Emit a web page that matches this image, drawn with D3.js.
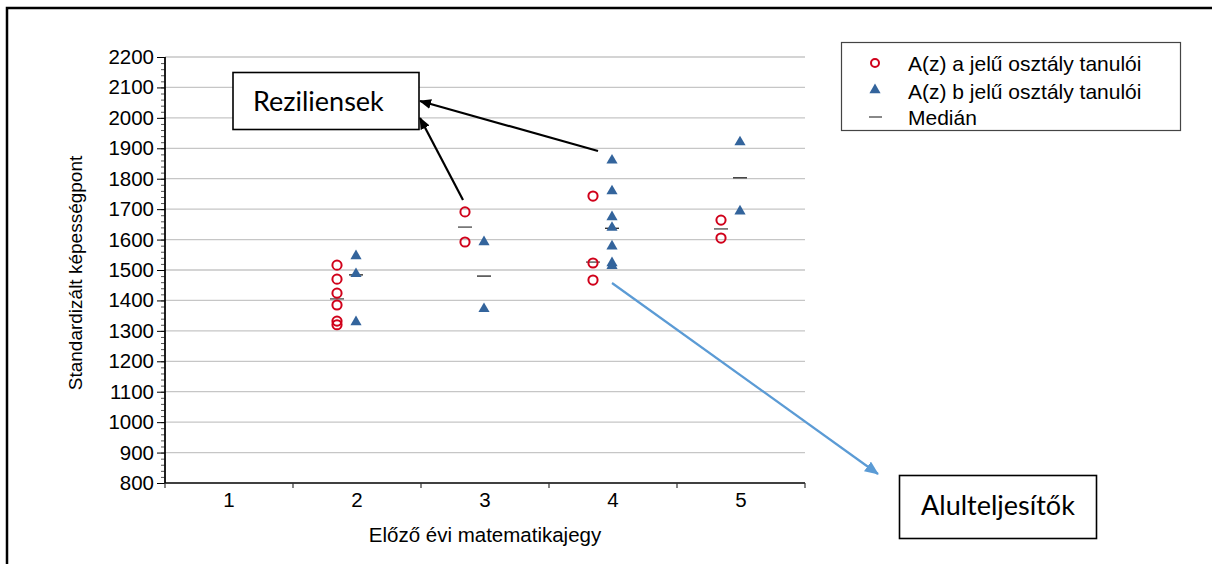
<!DOCTYPE html>
<html><head><meta charset="utf-8">
<script src="https://cdn.jsdelivr.net/npm/d3@7"></script>
<style>body{margin:0;background:#fff}svg{display:block}</style>
</head><body>
<svg id="c" width="1212" height="564"></svg>
<script>
const grades = [1, 2, 3, 4, 5];
const yTicks = [800, 900, 1000, 1100, 1200, 1300, 1400, 1500, 1600, 1700, 1800, 1900, 2000, 2100, 2200];
// class "a" students (circles): [grade, score]
const classA = [
  [2, 1516], [2, 1470], [2, 1424], [2, 1385], [2, 1332], [2, 1320],
  [3, 1691], [3, 1592],
  [4, 1743], [4, 1523], [4, 1467],
  [5, 1664], [5, 1605]
];
// class "b" students (triangles)
const classB = [
  [2, 1543], [2, 1484], [2, 1326],
  [3, 1589], [3, 1369],
  [4, 1857], [4, 1756], [4, 1671], [4, 1636], [4, 1575], [4, 1520], [4, 1511],
  [5, 1917], [5, 1690]
];
const medianA = [[2, 1405], [3, 1641], [4, 1526], [5, 1635]];
const medianB = [[2, 1484], [3, 1480], [4, 1637], [5, 1803]];
const legendLabels = ["A(z) a jelű osztály tanulói", "A(z) b jelű osztály tanulói", "Medián"];
const xTitle = "Előző évi matematikajegy";
const yTitle = "Standardizált képességpont";

const svg = d3.select("#c");
const F = "'Liberation Sans', Arial, sans-serif";
const L = {left: 165, right: 805, top: 57, bottom: 483};

const x = d3.scaleBand().domain(grades).range([L.left, L.right]);
const y = d3.scaleLinear().domain([800, 2200]).range([L.bottom, L.top]);
const cx = g => x(g) + x.bandwidth() / 2;
const offA = -20, offB = -1;

// outer frame
svg.append("path").attr("d", `M7,570 L7,8 L1220,8`).attr("fill", "none").attr("stroke", "#000").attr("stroke-width", 2.5);

// gridlines
svg.append("g").selectAll("line").data(yTicks.slice(1)).join("line")
  .attr("x1", L.left).attr("x2", L.right).attr("y1", d => y(d)).attr("y2", d => y(d))
  .attr("stroke", "#c6c6c6").attr("stroke-width", 1.3);

// y axis
const yMinor = d3.range(800, 2201, 20);
const ya = svg.append("g").attr("transform", `translate(${L.left},0)`);
ya.call(d3.axisLeft(y).tickValues(yMinor).tickSize(4).tickFormat(""));
ya.call(g => g.selectAll(".tick line").attr("stroke", "#555"));
const yb = svg.append("g").attr("transform", `translate(${L.left},0)`);
yb.call(d3.axisLeft(y).tickValues(yTicks).tickSize(8).tickPadding(3).tickFormat(d3.format("d")));
yb.selectAll("text").attr("font-family", F).attr("font-size", 20.5).attr("fill", "#000");
yb.select(".domain").attr("stroke", "#000").attr("stroke-width", 1.5);
svg.selectAll(".domain").attr("d", `M0,${L.top}V${L.bottom}`);

// x axis
const xa = svg.append("g").attr("transform", `translate(0,${L.bottom})`);
xa.call(d3.axisBottom(x).tickSize(0).tickPadding(9));
xa.select(".domain").attr("d", `M${L.left},0H${L.right}`).attr("stroke", "#000").attr("stroke-width", 1.5);
xa.selectAll("text").attr("font-family", F).attr("font-size", 20.5).attr("fill", "#000");
xa.selectAll("line.bt").data(grades.map(g => x(g)).concat([L.right])).join("line").attr("class", "bt")
  .attr("x1", d => d).attr("x2", d => d).attr("y1", 0).attr("y2", 5).attr("stroke", "#333").attr("stroke-width", 1.2);

// axis titles
svg.append("text").attr("x", 485).attr("y", 542).attr("text-anchor", "middle")
  .attr("font-family", F).attr("font-size", 20.5).attr("fill", "#000").text(xTitle);
svg.append("text").attr("transform", `translate(82,273) rotate(-90)`).attr("text-anchor", "middle")
  .attr("font-family", F).attr("font-size", 19).attr("fill", "#000").text(yTitle);

// medians
svg.append("g").selectAll("line").data(medianA).join("line")
  .attr("x1", d => cx(d[0]) + offA - 7).attr("x2", d => cx(d[0]) + offA + 7)
  .attr("y1", d => y(d[1])).attr("y2", d => y(d[1])).attr("stroke", "#555").attr("stroke-width", 1.4);
svg.append("g").selectAll("line").data(medianB).join("line")
  .attr("x1", d => cx(d[0]) + offB - 7).attr("x2", d => cx(d[0]) + offB + 7)
  .attr("y1", d => y(d[1])).attr("y2", d => y(d[1])).attr("stroke", "#333").attr("stroke-width", 1.4);

// points
const tri = d3.symbol().type(d3.symbolTriangle).size(54);
const blue = "#33649c", red = "#d0021b";
svg.append("g").selectAll("path").data(classB).join("path")
  .attr("d", tri).attr("transform", d => `translate(${cx(d[0]) + offB},${y(d[1]) - 1})`).attr("fill", blue);
svg.append("g").selectAll("circle").data(classA).join("circle")
  .attr("cx", d => cx(d[0]) + offA).attr("cy", d => y(d[1])).attr("r", 4.6)
  .attr("fill", "none").attr("stroke", red).attr("stroke-width", 2);

// legend
const lg = svg.append("g");
lg.append("rect").attr("x", 841.5).attr("y", 42.5).attr("width", 339).attr("height", 88)
  .attr("fill", "#fff").attr("stroke", "#444").attr("stroke-width", 1.2);
const ly = [63, 91, 117];
lg.append("circle").attr("cx", 875).attr("cy", ly[0]).attr("r", 4).attr("fill", "none").attr("stroke", red).attr("stroke-width", 2);
lg.append("path").attr("d", tri).attr("transform", `translate(875,${ly[1] - 1})`).attr("fill", blue);
lg.append("line").attr("x1", 869).attr("x2", 882).attr("y1", ly[2]).attr("y2", ly[2]).attr("stroke", "#555").attr("stroke-width", 1.4);
lg.selectAll("text").data(legendLabels).join("text").attr("x", 908).attr("y", (d, i) => ly[i] + 7.5)
  .attr("font-family", F).attr("font-size", 21).attr("fill", "#000").text(d => d);

// annotations
const defs = svg.append("defs");
defs.append("marker").attr("id", "ab").attr("viewBox", "0 0 12 10").attr("refX", 11).attr("refY", 5)
  .attr("markerWidth", 12).attr("markerHeight", 10).attr("markerUnits", "userSpaceOnUse").attr("orient", "auto")
  .append("path").attr("d", "M0,0 L12,5 L0,10 Z").attr("fill", "#000");
defs.append("marker").attr("id", "abl").attr("viewBox", "0 0 14 12").attr("refX", 13).attr("refY", 6)
  .attr("markerWidth", 14).attr("markerHeight", 12).attr("markerUnits", "userSpaceOnUse").attr("orient", "auto")
  .append("path").attr("d", "M0,0 L14,6 L0,12 Z").attr("fill", "#5b9bd5");

const AF = "Lato, 'Open Sans', sans-serif";
svg.append("line").attr("x1", 463).attr("y1", 200).attr("x2", 420).attr("y2", 118)
  .attr("stroke", "#000").attr("stroke-width", 2.2).attr("marker-end", "url(#ab)");
svg.append("line").attr("x1", 598).attr("y1", 151).attr("x2", 420).attr("y2", 101)
  .attr("stroke", "#000").attr("stroke-width", 2.2).attr("marker-end", "url(#ab)");
svg.append("rect").attr("x", 233).attr("y", 72.5).attr("width", 186).attr("height", 57)
  .attr("fill", "#fff").attr("stroke", "#000").attr("stroke-width", 1.6);
svg.append("text").attr("x", 253).attr("y", 111).attr("font-family", AF).attr("font-size", 27).attr("fill", "#000").text("Reziliensek");

svg.append("line").attr("x1", 612).attr("y1", 283).attr("x2", 878).attr("y2", 474)
  .attr("stroke", "#5b9bd5").attr("stroke-width", 2.2).attr("marker-end", "url(#abl)");
svg.append("rect").attr("x", 899.5).attr("y", 475.5).attr("width", 197).attr("height", 63)
  .attr("fill", "#fff").attr("stroke", "#000").attr("stroke-width", 1.6);
svg.append("text").attr("x", 998).attr("y", 515).attr("text-anchor", "middle").attr("font-family", AF).attr("font-size", 27).attr("fill", "#000").text("Alulteljesítők");
</script>
</body></html>
